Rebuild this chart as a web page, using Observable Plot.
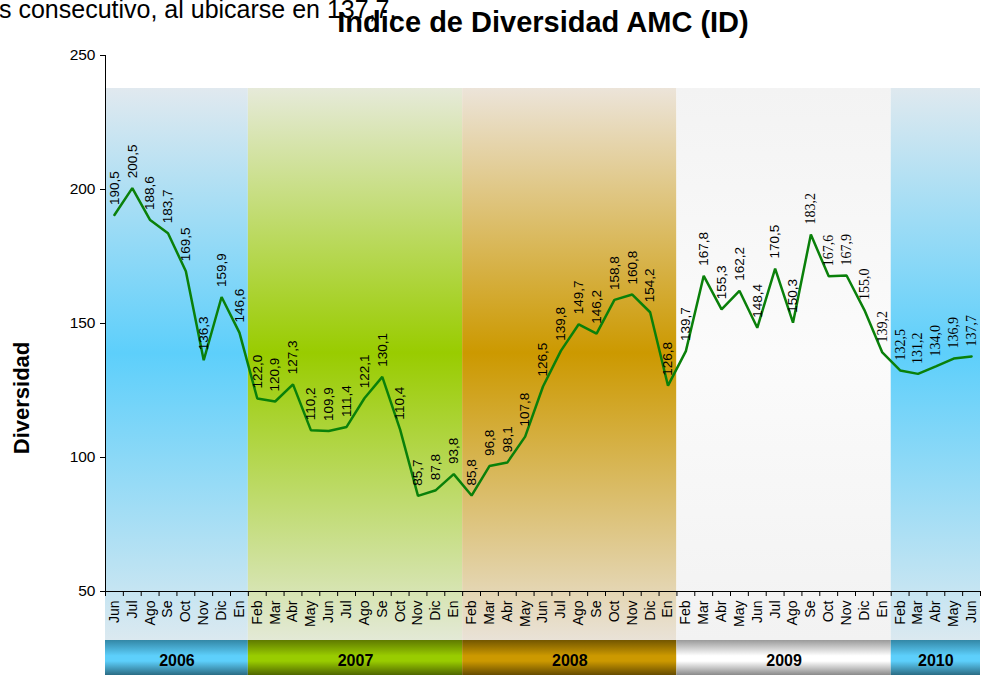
<!DOCTYPE html>
<html><head><meta charset="utf-8">
<script src="https://cdn.jsdelivr.net/npm/d3@7"></script>
<script src="https://cdn.jsdelivr.net/npm/@observablehq/plot@0.6"></script>
<style>
body{margin:0;background:#fff;}
#wrap{position:relative;width:982px;height:675px;overflow:hidden;font-family:"Liberation Sans",Arial,sans-serif;}
#wrap svg{position:absolute;left:0;top:0;}
#over{pointer-events:none;}
</style></head>
<body><div id="wrap"></div>
<script>
const months = ["Jun","Jul","Ago","Se","Oct","Nov","Dic","En",
  "Feb","Mar","Abr","May","Jun","Jul","Ago","Se","Oct","Nov","Dic","En",
  "Feb","Mar","Abr","May","Jun","Jul","Ago","Se","Oct","Nov","Dic","En",
  "Feb","Mar","Abr","May","Jun","Jul","Ago","Se","Oct","Nov","Dic","En",
  "Feb","Mar","Abr","May","Jun"];
const values = [190.5,200.5,188.6,183.7,169.5,136.3,159.9,146.6,
  122.0,120.9,127.3,110.2,109.9,111.4,122.1,130.1,110.4,85.7,87.8,93.8,
  85.8,96.8,98.1,107.8,126.5,139.8,149.7,146.2,158.8,160.8,154.2,126.8,
  139.7,167.8,155.3,162.2,148.4,170.5,150.3,183.2,167.6,167.9,155.0,139.2,
  132.5,131.2,134.0,136.9,137.7];
const years = ["2006","2007","2008","2009","2010"];
const yearCounts = [8,12,12,12,5];
const yTicks = [50,100,150,200,250];
const title = "Indice de Diversidad AMC (ID)";
const strayText = "s consecutivo, al ubicarse en 137,7.";
const yLabel = "Diversidad";
const serifFromIndex = 39;

// palettes: [light top, strong middle, light bottom] and bar [dark, bright, dark]
const bgPal = [["#e1e9ef","#5dcffb","#dbe9f0"],["#e6ead9","#99cc00","#e3e9d6"],["#ece4d9","#cc9900","#e9e2d7"],["#f3f3f3","#fbfbfb","#f2f2f2"],["#dfe9ef","#5dcffb","#dbe9f0"]];
const barPal = [["#3387a6","#5dcffb","#2b6c84"],["#5f7a00","#99cc00","#4f6600"],["#735600","#cc9900","#664c00"],["#9a9a9a","#ffffff","#8a8a8a"],["#3387a6","#5dcffb","#2b6c84"]];

const data = values.map((v,i)=>({i, v, m: months[i], lab: v.toFixed(1).replace(".", ",")}));
let s = 0;
const groups = years.map((y,k)=>{const g={k, year:y, x1:s-0.5, x2:s+yearCounts[k]-0.5, mid:s+(yearCounts[k]-1)/2}; s+=yearCounts[k]; return g;});
const bounds = d3.range(values.length+1).map(i=>i-0.5);
const yMin = yTicks[0], yMax = yTicks[yTicks.length-1];
const xMin = bounds[0];

const marks = [];
groups.forEach(g=>{
  marks.push(Plot.rect([g], {x1:"x1", x2:"x2", y1:()=>yMax, y2:()=>yMin, fill:`url(#bg${g.k})`, insetTop:33, insetBottom:-49}));
  marks.push(Plot.rect([g], {x1:"x1", x2:"x2", y1:()=>yMin, y2:()=>yMin, fill:`url(#bar${g.k})`, insetTop:49, insetBottom:-84}));
});
marks.push(Plot.text(groups, {x:"mid", y:()=>yMin, text:"year", dy:69, fontWeight:"bold", fontSize:16, fill:"black"}));
// axes
marks.push(Plot.ruleX([xMin], {stroke:"black", strokeWidth:1}));
marks.push(Plot.ruleY([yMin], {stroke:"black", strokeWidth:1}));
marks.push(Plot.ruleY(yTicks, {y:d=>d, x1:()=>xMin, x2:()=>xMin, insetLeft:-5, stroke:"black"}));
marks.push(Plot.text(yTicks, {x:()=>xMin, y:d=>d, text:d=>String(d), textAnchor:"end", dx:-10, fontSize:15.5, fill:"black"}));
marks.push(Plot.ruleX(bounds, {x:d=>d, y1:()=>yMin, y2:()=>yMin, insetBottom:-5, stroke:"black"}));
marks.push(Plot.text(data, {x:"i", y:()=>yMin, text:"m", rotate:-90, textAnchor:"end", dy:9, fontSize:14, fill:"black"}));
// series
marks.push(Plot.line(data, {x:"i", y:"v", stroke:"#0a800a", strokeWidth:2.5, strokeLinejoin:"miter"}));
marks.push(Plot.text(data.filter(d=>d.i<serifFromIndex), {x:"i", y:"v", text:"lab", rotate:-90, textAnchor:"start", dy:-10, fontSize:13.5, fill:"black"}));
marks.push(Plot.text(data.filter(d=>d.i>=serifFromIndex), {x:"i", y:"v", text:"lab", rotate:-90, textAnchor:"start", dy:-10, fontSize:14, fill:"black", fontFamily:"'Liberation Serif', 'Times New Roman', serif"}));

const svg = Plot.plot({
  width: 982, height: 675,
  marginLeft: 105, marginRight: 2, marginTop: 55, marginBottom: 84,
  style: {fontFamily: "'Liberation Sans', Arial, sans-serif", fontSize: "13px", background: "transparent", color: "black"},
  x: {type: "linear", domain: [xMin, bounds[bounds.length-1]], axis: null},
  y: {domain: [yMin, yMax], axis: null},
  marks
});
const defs = document.createElementNS("http://www.w3.org/2000/svg","defs");
let html = "";
bgPal.forEach((p,k)=>{ html += `<linearGradient id="bg${k}" x1="0" y1="0" x2="0" y2="1"><stop offset="0" stop-color="${p[0]}"/><stop offset="0.48" stop-color="${p[1]}"/><stop offset="1" stop-color="${p[2]}"/></linearGradient>`; });
barPal.forEach((p,k)=>{ html += `<linearGradient id="bar${k}" x1="0" y1="0" x2="0" y2="1"><stop offset="0" stop-color="${p[0]}"/><stop offset="0.45" stop-color="${p[1]}"/><stop offset="0.6" stop-color="${p[1]}"/><stop offset="1" stop-color="${p[2]}"/></linearGradient>`; });
defs.innerHTML = html;
svg.insertBefore(defs, svg.firstChild);
const wrap = document.getElementById("wrap");
wrap.appendChild(svg);

const over = d3.select(wrap).append("svg").attr("id","over").attr("width",982).attr("height",675)
  .style("font-family","'Liberation Sans', Arial, sans-serif");
over.append("text").attr("x",-1).attr("y",18).attr("font-size",25).text(strayText);
over.append("text").attr("x",543).attr("y",32).attr("text-anchor","middle").attr("font-size",29).attr("font-weight","bold").text(title);
over.append("text").attr("transform","translate(29,398) rotate(-90)").attr("text-anchor","middle").attr("font-size",22).attr("font-weight","bold").text(yLabel);
</script></body></html>
